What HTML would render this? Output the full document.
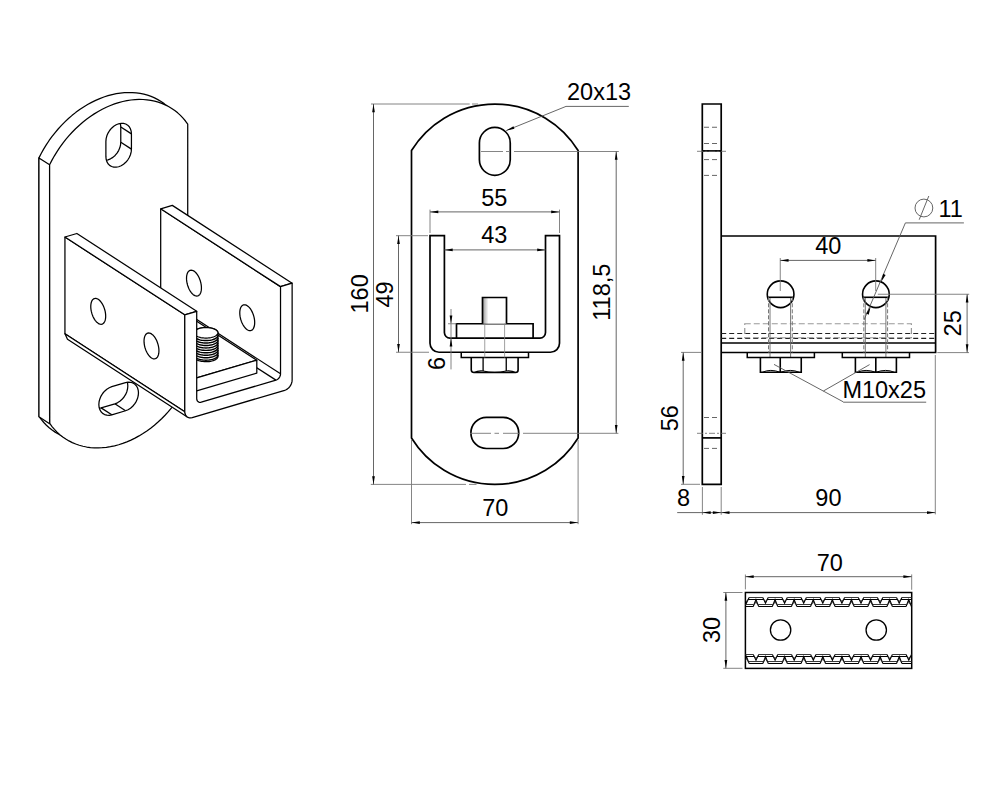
<!DOCTYPE html>
<html><head><meta charset="utf-8"><style>
html,body{margin:0;padding:0;background:#fff;}
svg{display:block;}
text{font-family:"Liberation Sans",sans-serif;fill:#000;}
</style></head><body>
<svg width="1000" height="800" viewBox="0 0 1000 800">
<rect width="1000" height="800" fill="#fff"/>
<g>
<polygon points="38.94,157.9 41.2,153.48 43.63,149.14 46.22,144.89 48.98,140.73 51.89,136.69 54.95,132.78 58.14,128.99 61.46,125.35 64.91,121.85 68.46,118.52 72.12,115.36 75.87,112.37 79.7,109.57 83.61,106.96 87.58,104.55 91.6,102.35 95.66,100.36 99.76,98.58 103.88,97.03 108.01,95.69 112.14,94.59 116.25,93.72 120.35,93.08 124.42,92.68 128.44,92.51 132.41,92.58 136.31,92.89 140.15,93.43 143.9,94.2 147.55,95.21 151.11,96.45 154.55,97.91 157.87,99.6 161.07,101.5 164.12,103.62 167.03,105.95 169.79,108.47 172.39,111.2 174.82,114.11 177.08,117.2 177.06,376.04 176.89,375.98 174.63,380.38 172.19,384.69 169.6,388.92 166.84,393.05 163.93,397.06 160.88,400.96 157.69,404.72 154.38,408.34 150.94,411.81 147.4,415.12 143.76,418.26 140.02,421.23 136.2,424.01 132.31,426.6 128.35,429 124.35,431.19 120.3,433.17 116.22,434.94 112.12,436.48 108.01,437.81 103.9,438.91 99.79,439.78 95.72,440.41 91.67,440.82 87.66,440.99 83.71,440.93 79.82,440.63 76,440.1 72.26,439.33 68.61,438.34 65.07,437.12 61.64,435.67 58.32,434 55.13,432.12 52.08,430.02 49.18,427.72 46.42,425.22 43.82,422.52 41.39,419.64 39.12,416.58 38.95,157.91" fill="#fff" stroke="#000" stroke-width="1.25" stroke-linejoin="round" />
<polygon points="38.95,157.91 49.6,164.83 49.6,423.66 38.95,416.75" fill="#fff" stroke="#000" stroke-width="1.25" stroke-linejoin="round" />
<polygon points="49.59,164.82 51.85,160.4 54.28,156.06 56.88,151.8 59.63,147.65 62.54,143.61 65.6,139.69 68.79,135.91 72.12,132.26 75.56,128.77 79.11,125.44 82.77,122.27 86.52,119.29 90.35,116.49 94.26,113.88 98.23,111.47 102.25,109.27 106.32,107.27 110.41,105.5 114.53,103.94 118.66,102.61 122.79,101.51 126.91,100.64 131,100 135.07,99.6 139.09,99.43 143.06,99.5 146.97,99.8 150.8,100.35 154.55,101.12 158.21,102.13 161.76,103.37 165.2,104.83 168.53,106.52 171.72,108.42 174.77,110.54 177.68,112.86 180.44,115.39 183.04,118.11 185.47,121.02 187.73,124.11 187.71,382.96 187.54,382.9 185.28,387.29 182.85,391.61 180.25,395.84 177.49,399.96 174.58,403.98 171.53,407.87 168.34,411.64 165.03,415.26 161.6,418.73 158.05,422.04 154.41,425.18 150.67,428.15 146.85,430.93 142.96,433.52 139.01,435.91 135,438.11 130.95,440.09 126.87,441.85 122.77,443.4 118.66,444.73 114.55,445.82 110.45,446.69 106.37,447.33 102.32,447.74 98.31,447.91 94.36,447.84 90.47,447.55 86.65,447.01 82.91,446.25 79.27,445.26 75.72,444.03 72.29,442.59 68.97,440.92 65.79,439.04 62.74,436.94 59.83,434.64 57.07,432.14 54.47,429.44 52.04,426.56 49.78,423.49 49.6,164.83" fill="#fff" stroke="#000" stroke-width="1.25" stroke-linejoin="round" />
<clipPath id="cs1"><polygon points="105.89,141.4 106.14,138.62 106.86,135.8 108.04,133.06 109.63,130.49 111.57,128.2 113.77,126.26 116.17,124.77 118.66,123.77 121.15,123.3 123.54,123.38 125.75,124.02 127.69,125.17 129.27,126.8 130.45,128.85 131.18,131.24 131.43,133.87 131.43,149.13 131.18,151.91 130.45,154.72 129.27,157.47 127.69,160.04 125.75,162.33 123.54,164.26 121.15,165.76 118.66,166.76 116.17,167.23 113.77,167.14 111.57,166.51 109.63,165.36 108.04,163.72 106.86,161.67 106.14,159.29 105.89,156.66"/></clipPath>
<polygon points="95.24,134.48 95.49,131.7 96.21,128.89 97.39,126.14 98.98,123.57 100.91,121.28 103.12,119.35 105.52,117.85 108.01,116.85 110.5,116.38 112.89,116.47 115.1,117.1 117.03,118.25 118.62,119.89 119.8,121.93 120.53,124.32 120.77,126.95 120.77,142.21 120.53,144.99 119.8,147.81 118.62,150.55 117.03,153.12 115.1,155.41 112.89,157.35 110.5,158.84 108.01,159.84 105.52,160.31 103.12,160.23 100.91,159.59 98.98,158.44 97.39,156.81 96.21,154.76 95.49,152.37 95.24,149.74" fill="none" stroke="#000" stroke-width="1.25" stroke-linejoin="round" clip-path="url(#cs1)"/>
<line x1="120.82" y1="126.94" x2="131.47" y2="133.86" stroke="#000" stroke-width="1.25" />
<line x1="120.82" y1="142.2" x2="131.47" y2="149.12" stroke="#000" stroke-width="1.25" />
<polygon points="105.89,141.4 106.14,138.62 106.86,135.8 108.04,133.06 109.63,130.49 111.57,128.2 113.77,126.26 116.17,124.77 118.66,123.77 121.15,123.3 123.54,123.38 125.75,124.02 127.69,125.17 129.27,126.8 130.45,128.85 131.18,131.24 131.43,133.87 131.43,149.13 131.18,151.91 130.45,154.72 129.27,157.47 127.69,160.04 125.75,162.33 123.54,164.26 121.15,165.76 118.66,166.76 116.17,167.23 113.77,167.14 111.57,166.51 109.63,165.36 108.04,163.72 106.86,161.67 106.14,159.29 105.89,156.66" fill="none" stroke="#000" stroke-width="1.25" stroke-linejoin="round" />
<clipPath id="cs2"><polygon points="125.54,382.65 128.06,382.17 130.49,382.26 132.72,382.9 134.68,384.07 136.29,385.72 137.49,387.8 138.22,390.21 138.47,392.88 138.22,395.69 137.49,398.55 136.29,401.33 134.68,403.93 132.72,406.25 130.49,408.21 128.06,409.72 125.54,410.74 111.78,414.79 109.26,415.27 106.83,415.18 104.59,414.54 102.63,413.37 101.03,411.72 99.83,409.64 99.09,407.23 98.85,404.56 99.09,401.75 99.83,398.89 101.03,396.11 102.63,393.51 104.59,391.19 106.83,389.23 109.26,387.72 111.78,386.7"/></clipPath>
<polygon points="114.89,375.73 117.41,375.26 119.84,375.34 122.07,375.98 124.03,377.15 125.64,378.8 126.84,380.88 127.57,383.3 127.82,385.96 127.57,388.78 126.84,391.63 125.64,394.41 124.03,397.01 122.07,399.34 119.84,401.29 117.41,402.81 114.89,403.82 101.13,407.88 98.6,408.35 96.18,408.27 93.94,407.63 91.98,406.46 90.37,404.8 89.18,402.73 88.44,400.31 88.19,397.64 88.44,394.83 89.18,391.98 90.37,389.2 91.98,386.59 93.94,384.27 96.18,382.31 98.6,380.8 101.13,379.79" fill="none" stroke="#000" stroke-width="1.25" stroke-linejoin="round" clip-path="url(#cs2)"/>
<line x1="101.13" y1="407.88" x2="111.78" y2="414.79" stroke="#000" stroke-width="1.25" />
<line x1="114.89" y1="403.82" x2="125.54" y2="410.74" stroke="#000" stroke-width="1.25" />
<polygon points="125.54,382.65 128.06,382.17 130.49,382.26 132.72,382.9 134.68,384.07 136.29,385.72 137.49,387.8 138.22,390.21 138.47,392.88 138.22,395.69 137.49,398.55 136.29,401.33 134.68,403.93 132.72,406.25 130.49,408.21 128.06,409.72 125.54,410.74 111.78,414.79 109.26,415.27 106.83,415.18 104.59,414.54 102.63,413.37 101.03,411.72 99.83,409.64 99.09,407.23 98.85,404.56 99.09,401.75 99.83,398.89 101.03,396.11 102.63,393.51 104.59,391.19 106.83,389.23 109.26,387.72 111.78,386.7" fill="none" stroke="#000" stroke-width="1.25" stroke-linejoin="round" />
<polygon points="160.69,208.8 280.52,286.61 280.52,378.8 160.69,300.99" fill="#fff" stroke="none" stroke-width="1.25" stroke-linejoin="round" />
<line x1="160.69" y1="208.8" x2="160.69" y2="296.03" stroke="#000" stroke-width="1.25" />
<line x1="160.69" y1="208.8" x2="280.52" y2="286.61" stroke="#000" stroke-width="1.25" />
<polygon points="160.69,208.8 280.52,286.61 292.13,283.19 172.3,205.37" fill="#fff" stroke="#000" stroke-width="1.25" stroke-linejoin="round" />
<polygon points="201.43,287.96 201.37,289.49 201.18,290.91 200.87,292.2 200.43,293.33 199.89,294.28 199.25,295.04 198.52,295.61 197.71,295.95 196.83,296.08 195.91,295.99 194.95,295.67 193.98,295.14 193,294.41 192.05,293.48 191.12,292.37 190.25,291.11 189.44,289.71 188.7,288.2 188.06,286.6 187.52,284.94 187.09,283.25 186.77,281.56 186.58,279.89 186.52,278.28 186.58,276.75 186.77,275.34 187.09,274.05 187.52,272.92 188.06,271.96 188.7,271.2 189.44,270.64 190.25,270.29 191.12,270.17 192.05,270.26 193,270.57 193.98,271.1 194.95,271.84 195.91,272.77 196.83,273.87 197.71,275.13 198.52,276.53 199.25,278.05 199.89,279.65 200.43,281.31 200.87,283 201.18,284.69 201.37,286.35" fill="none" stroke="#000" stroke-width="1.25" stroke-linejoin="round" />
<polygon points="254.69,322.55 254.63,324.08 254.44,325.49 254.13,326.78 253.69,327.91 253.15,328.86 252.51,329.63 251.78,330.19 250.97,330.54 250.09,330.66 249.17,330.57 248.21,330.25 247.24,329.73 246.26,328.99 245.31,328.06 244.38,326.96 243.51,325.69 242.7,324.29 241.96,322.78 241.32,321.18 240.78,319.52 240.35,317.83 240.03,316.14 239.84,314.48 239.78,312.86 239.84,311.34 240.03,309.92 240.35,308.63 240.78,307.5 241.32,306.55 241.96,305.78 242.7,305.22 243.51,304.88 244.38,304.75 245.31,304.84 246.26,305.16 247.24,305.69 248.21,306.42 249.17,307.35 250.09,308.46 250.97,309.72 251.78,311.12 252.51,312.63 253.15,314.23 253.69,315.89 254.13,317.58 254.44,319.27 254.63,320.94" fill="none" stroke="#000" stroke-width="1.25" stroke-linejoin="round" />
<polygon points="76.88,325.68 196.71,403.5 280.52,378.8 160.69,300.99" fill="#fff" stroke="none" stroke-width="1.25" stroke-linejoin="round" />
<line x1="160.69" y1="296.03" x2="280.52" y2="373.85" stroke="#000" stroke-width="1.25" />
<line x1="156.13" y1="302.33" x2="275.96" y2="380.14" stroke="#000" stroke-width="1.25" />
<polygon points="100.09,318.37 193.3,378.89 256.8,360.18 163.59,299.66" fill="#fff" stroke="#000" stroke-width="1.25" stroke-linejoin="round" />
<polygon points="193.3,378.89 256.8,360.18 256.8,373.1 193.3,391.81" fill="#fff" stroke="#000" stroke-width="1.25" stroke-linejoin="round" />
<polygon points="100.09,318.37 193.3,378.89 193.3,391.81 100.09,331.29" fill="#fff" stroke="#000" stroke-width="1.25" stroke-linejoin="round" />
<polygon points="217.95,332.81 217.85,332.12 217.55,331.45 217.04,330.8 216.35,330.18 215.47,329.61 214.44,329.09 213.26,328.64 211.95,328.25 210.55,327.95 209.06,327.73 207.52,327.59 205.95,327.55 204.39,327.59 202.85,327.72 201.36,327.94 199.95,328.24 198.65,328.63 197.47,329.08 196.43,329.59 195.56,330.16 194.86,330.78 194.36,331.43 194.05,332.1 193.95,332.79 193.95,356.42 194.05,357.11 194.36,357.78 194.86,358.43 195.56,359.05 196.43,359.62 197.47,360.14 198.65,360.59 199.95,360.98 201.36,361.28 202.85,361.5 204.39,361.64 205.95,361.68 207.52,361.64 209.06,361.51 210.55,361.29 211.95,360.99 213.26,360.6 214.44,360.15 215.47,359.64 216.35,359.07 217.04,358.45 217.55,357.8 217.85,357.13 217.95,356.44" fill="#fff" stroke="#000" stroke-width="1.25" stroke-linejoin="round" />
<polygon points="212.67,337.16 213.91,336.74 215.01,336.25 215.96,335.7 216.74,335.11 217.33,334.47 217.73,333.81 217.93,333.13 217.92,332.44 217.71,331.76 217.3,331.1 216.69,330.46 215.9,329.87 214.94,329.32 213.82,328.84 212.57,328.42 211.21,328.08 209.76,327.82 208.24,327.64 206.68,327.56 205.11,327.56 203.56,327.65 202.04,327.83 200.6,328.09 199.24,328.44 198,328.86 196.89,329.35 195.94,329.89 195.16,330.49 194.57,331.12 194.17,331.79 193.97,332.47 193.98,333.16 194.19,333.84 194.61,334.5 195.21,335.14 196,335.73 196.97,336.27 198.08,336.76 199.33,337.18 200.69,337.52 202.15,337.78 203.67,337.95 205.22,338.04 206.79,338.04 208.35,337.95 209.86,337.77 211.31,337.5 212.67,337.16" fill="#fff" stroke="#000" stroke-width="1.25" stroke-linejoin="round" />
<polyline points="193.95,335.31 194.05,336 194.36,336.67 194.86,337.32 195.56,337.94 196.43,338.51 197.47,339.03 198.65,339.48 199.95,339.86 201.36,340.17 202.85,340.39 204.39,340.53 205.95,340.57 207.52,340.53 209.06,340.4 210.55,340.18 211.95,339.87 213.26,339.49 214.44,339.04 215.47,338.52 216.35,337.95 217.04,337.34 217.55,336.69 217.85,336.01 217.95,335.33" fill="none" stroke="#000" stroke-width="1.45" stroke-linejoin="round" />
<polyline points="193.95,337.76 194.05,338.45 194.36,339.12 194.86,339.77 195.56,340.39 196.43,340.96 197.47,341.48 198.65,341.93 199.95,342.31 201.36,342.62 202.85,342.84 204.39,342.98 205.95,343.02 207.52,342.98 209.06,342.84 210.55,342.63 211.95,342.32 213.26,341.94 214.44,341.49 215.47,340.97 216.35,340.4 217.04,339.79 217.55,339.14 217.85,338.46 217.95,337.78" fill="none" stroke="#000" stroke-width="1.45" stroke-linejoin="round" />
<polyline points="193.95,340.21 194.05,340.89 194.36,341.57 194.86,342.22 195.56,342.84 196.43,343.41 197.47,343.93 198.65,344.38 199.95,344.76 201.36,345.07 202.85,345.29 204.39,345.42 205.95,345.47 207.52,345.43 209.06,345.29 210.55,345.07 211.95,344.77 213.26,344.39 214.44,343.94 215.47,343.42 216.35,342.85 217.04,342.24 217.55,341.59 217.85,340.91 217.95,340.23" fill="none" stroke="#000" stroke-width="1.45" stroke-linejoin="round" />
<polyline points="193.95,342.66 194.05,343.34 194.36,344.02 194.86,344.67 195.56,345.29 196.43,345.86 197.47,346.37 198.65,346.83 199.95,347.21 201.36,347.52 202.85,347.74 204.39,347.87 205.95,347.92 207.52,347.88 209.06,347.74 210.55,347.52 211.95,347.22 213.26,346.84 214.44,346.39 215.47,345.87 216.35,345.3 217.04,344.68 217.55,344.03 217.85,343.36 217.95,342.67" fill="none" stroke="#000" stroke-width="1.45" stroke-linejoin="round" />
<polyline points="193.95,345.11 194.05,345.79 194.36,346.47 194.86,347.12 195.56,347.73 196.43,348.31 197.47,348.82 198.65,349.28 199.95,349.66 201.36,349.97 202.85,350.19 204.39,350.32 205.95,350.37 207.52,350.32 209.06,350.19 210.55,349.97 211.95,349.67 213.26,349.29 214.44,348.84 215.47,348.32 216.35,347.75 217.04,347.13 217.55,346.48 217.85,345.81 217.95,345.12" fill="none" stroke="#000" stroke-width="1.45" stroke-linejoin="round" />
<polyline points="193.95,347.56 194.05,348.24 194.36,348.92 194.86,349.57 195.56,350.18 196.43,350.75 197.47,351.27 198.65,351.73 199.95,352.11 201.36,352.41 202.85,352.64 204.39,352.77 205.95,352.82 207.52,352.77 209.06,352.64 210.55,352.42 211.95,352.12 213.26,351.74 214.44,351.28 215.47,350.77 216.35,350.2 217.04,349.58 217.55,348.93 217.85,348.26 217.95,347.57" fill="none" stroke="#000" stroke-width="1.45" stroke-linejoin="round" />
<polyline points="193.95,350 194.05,350.69 194.36,351.36 194.86,352.01 195.56,352.63 196.43,353.2 197.47,353.72 198.65,354.18 199.95,354.56 201.36,354.86 202.85,355.08 204.39,355.22 205.95,355.27 207.52,355.22 209.06,355.09 210.55,354.87 211.95,354.57 213.26,354.19 214.44,353.73 215.47,353.22 216.35,352.65 217.04,352.03 217.55,351.38 217.85,350.71 217.95,350.02" fill="none" stroke="#000" stroke-width="1.45" stroke-linejoin="round" />
<polyline points="193.95,352.45 194.05,353.14 194.36,353.81 194.86,354.46 195.56,355.08 196.43,355.65 197.47,356.17 198.65,356.62 199.95,357.01 201.36,357.31 202.85,357.53 204.39,357.67 205.95,357.71 207.52,357.67 209.06,357.54 210.55,357.32 211.95,357.02 213.26,356.63 214.44,356.18 215.47,355.67 216.35,355.1 217.04,354.48 217.55,353.83 217.85,353.16 217.95,352.47" fill="none" stroke="#000" stroke-width="1.45" stroke-linejoin="round" />
<polyline points="193.95,354.9 194.05,355.59 194.36,356.26 194.86,356.91 195.56,357.53 196.43,358.1 197.47,358.62 198.65,359.07 199.95,359.46 201.36,359.76 202.85,359.98 204.39,360.12 205.95,360.16 207.52,360.12 209.06,359.99 210.55,359.77 211.95,359.46 213.26,359.08 214.44,358.63 215.47,358.11 216.35,357.54 217.04,356.93 217.55,356.28 217.85,355.6 217.95,354.92" fill="none" stroke="#000" stroke-width="1.45" stroke-linejoin="round" />
<polygon points="64.94,237.01 184.77,314.83 184.77,411.65 64.94,333.84" fill="#fff" stroke="#000" stroke-width="1.25" stroke-linejoin="round" />
<polygon points="64.94,237.01 184.77,314.83 196.71,311.31 76.88,233.49" fill="#fff" stroke="#000" stroke-width="1.25" stroke-linejoin="round" />
<polygon points="105.68,316.18 105.62,317.71 105.43,319.13 105.12,320.41 104.68,321.54 104.14,322.5 103.5,323.26 102.77,323.82 101.96,324.17 101.08,324.3 100.16,324.2 99.2,323.89 98.23,323.36 97.25,322.62 96.3,321.7 95.37,320.59 94.5,319.33 93.69,317.93 92.96,316.41 92.31,314.81 91.77,313.16 91.34,311.47 91.03,309.77 90.83,308.11 90.77,306.5 90.83,304.97 91.03,303.55 91.34,302.27 91.77,301.14 92.31,300.18 92.96,299.42 93.69,298.86 94.5,298.51 95.37,298.38 96.3,298.48 97.25,298.79 98.23,299.32 99.2,300.06 100.16,300.98 101.08,302.09 101.96,303.35 102.77,304.75 103.5,306.26 104.14,307.86 104.68,309.52 105.12,311.21 105.43,312.91 105.62,314.57" fill="none" stroke="#000" stroke-width="1.25" stroke-linejoin="round" />
<polygon points="158.94,350.77 158.88,352.29 158.69,353.71 158.38,355 157.94,356.13 157.4,357.08 156.76,357.85 156.03,358.41 155.22,358.75 154.34,358.88 153.42,358.79 152.46,358.47 151.49,357.94 150.51,357.21 149.56,356.28 148.63,355.17 147.76,353.91 146.95,352.51 146.22,351 145.57,349.4 145.03,347.74 144.6,346.05 144.29,344.36 144.09,342.69 144.03,341.08 144.09,339.55 144.29,338.14 144.6,336.85 145.03,335.72 145.57,334.77 146.22,334 146.95,333.44 147.76,333.09 148.63,332.97 149.56,333.06 150.51,333.38 151.49,333.9 152.46,334.64 153.42,335.57 154.34,336.67 155.22,337.94 156.03,339.34 156.76,340.85 157.4,342.45 157.94,344.11 158.38,345.8 158.69,347.49 158.88,349.15" fill="none" stroke="#000" stroke-width="1.25" stroke-linejoin="round" />
<polygon points="64.94,333.84 184.77,411.65 187.31,416.98 67.48,339.17" fill="#fff" stroke="#000" stroke-width="1.25" stroke-linejoin="round" />
<polygon points="184.77,314.83 184.77,411.65 184.77,411.65 184.92,413.19 185.34,414.59 186.03,415.78 186.96,416.74 188.09,417.41 189.38,417.78 190.78,417.83 192.24,417.56 284.67,390.32 286.13,389.73 287.52,388.86 288.81,387.73 289.95,386.39 290.87,384.89 291.56,383.28 291.99,381.64 292.13,380.02 292.13,283.19 280.52,286.61 280.52,373.85 280.52,373.85 280.44,374.84 280.18,375.85 279.76,376.83 279.19,377.74 278.5,378.56 277.71,379.25 276.85,379.79 275.96,380.14 201.27,402.15 200.38,402.32 199.53,402.29 198.74,402.07 198.05,401.65 197.48,401.07 197.06,400.34 196.8,399.49 196.71,398.55 196.71,311.31" fill="#fff" stroke="#000" stroke-width="1.25" stroke-linejoin="round" />
</g>
<path d="M411.5,150.5 A97.9,97.9 0 0 1 578.1,150.5 L578.1,438.0 A97.9,97.9 0 0 1 411.5,438.0 Z" stroke="#000" stroke-width="1.7" fill="none" />
<path d="M479.4,142.9 A15.42,15.42 0 0 1 510.25,142.9 L510.25,159.85 A15.42,15.42 0 0 1 479.4,159.85 Z" stroke="#000" stroke-width="1.7" fill="none" />
<path d="M486.5,417.3 L503.1,417.3 A15.6,15.6 0 0 1 503.1,448.5 L486.5,448.5 A15.6,15.6 0 0 1 486.5,417.3 Z" stroke="#000" stroke-width="1.7" fill="none" />
<path d="M481,151.5 H503 M506,151.5 H510 M514,151.5 H618.8" stroke="#777" stroke-width="0.9" fill="none" />
<path d="M470,433.3 H491 M494.5,433.3 H499 M503,433.3 H520 M523,433.3 H618.4" stroke="#777" stroke-width="0.9" fill="none" />
<path d="M430,235.7 L430,343.25 A9,9 0 0 0 439,352.25 L550.5,352.25 A9,9 0 0 0 559.5,343.25 L559.5,235.7 L545.5,235.7 L545.5,332.6 A5.5,5.5 0 0 1 540,338.1 L449.9,338.1 A5.5,5.5 0 0 1 444.4,332.6 L444.4,235.7 Z" stroke="#000" stroke-width="1.7" fill="none" />
<path d="M456.5,338.1 V323.75 H533.1 V338.1" stroke="#000" stroke-width="1.7" fill="none" />
<defs><linearGradient id="bg" x1="0" x2="1"><stop offset="0" stop-color="#999"/><stop offset="0.25" stop-color="#fff"/><stop offset="1" stop-color="#fff"/></linearGradient></defs>
<path d="M482.5,323.75 V297.5 H506.5 V323.75" stroke="#000" stroke-width="1.7" fill="url(#bg)" />
<path d="M461.25,352.25 V357.5 H528.5 V352.25" stroke="#000" stroke-width="1.5" fill="none" />
<path d="M471.25,357.5 V370 Q471.5,372.5 474,372.5 H515.5 Q518.1,372.5 518.1,370 V357.5" stroke="#000" stroke-width="1.6" fill="none" />
<path d="M483.1,357.5 V371 M506.25,357.5 V371" stroke="#000" stroke-width="1.3" fill="none" />
<path d="M474,372.5 Q478,370.5 483.1,371 Q494.5,373.5 506.25,371 Q512,370.5 515.5,372.5" stroke="#000" stroke-width="1.2" fill="none" />
<line x1="484.75" y1="323.5" x2="484.75" y2="357.5" stroke="#888" stroke-width="0.8" />
<line x1="504.6" y1="323.5" x2="504.6" y2="357.5" stroke="#888" stroke-width="0.8" />
<line x1="371" y1="104" x2="469.7" y2="104" stroke="#777" stroke-width="0.9" />
<line x1="472" y1="104" x2="478" y2="104" stroke="#777" stroke-width="0.9" />
<line x1="370.8" y1="484.4" x2="466" y2="484.4" stroke="#777" stroke-width="0.9" />
<line x1="469" y1="484.4" x2="476.5" y2="484.4" stroke="#777" stroke-width="0.9" />
<line x1="373.5" y1="104" x2="373.5" y2="484.5" stroke="#555" stroke-width="0.9" />
<polygon points="373.5,104 374.85,112.3 372.15,112.3" fill="#000"/>
<polygon points="373.5,484.5 372.15,476.2 374.85,476.2" fill="#000"/>
<text x="0" y="0" transform="translate(367.65,293.9) rotate(-90)" font-size="23.5" text-anchor="middle">160</text>
<line x1="396" y1="235.7" x2="428" y2="235.7" stroke="#777" stroke-width="0.9" />
<line x1="396" y1="352.25" x2="429" y2="352.25" stroke="#777" stroke-width="0.9" />
<line x1="398.5" y1="235.7" x2="398.5" y2="352.25" stroke="#555" stroke-width="0.9" />
<polygon points="398.5,235.7 399.85,244 397.15,244" fill="#000"/>
<polygon points="398.5,352.25 397.15,343.95 399.85,343.95" fill="#000"/>
<text x="0" y="0" transform="translate(392.85,294.4) rotate(-90)" font-size="23.5" text-anchor="middle">49</text>
<line x1="430" y1="209.6" x2="430" y2="233" stroke="#777" stroke-width="0.9" />
<line x1="559.5" y1="209.6" x2="559.5" y2="233" stroke="#777" stroke-width="0.9" />
<line x1="430" y1="211.9" x2="559.5" y2="211.9" stroke="#555" stroke-width="0.9" />
<polygon points="430,211.9 438.3,210.55 438.3,213.25" fill="#000"/>
<polygon points="559.5,211.9 551.2,213.25 551.2,210.55" fill="#000"/>
<text x="494.3" y="205.9" font-size="23.5" text-anchor="middle">55</text>
<line x1="444.4" y1="249.9" x2="545.5" y2="249.9" stroke="#555" stroke-width="0.9" />
<polygon points="444.4,249.9 452.7,248.55 452.7,251.25" fill="#000"/>
<polygon points="545.5,249.9 537.2,251.25 537.2,248.55" fill="#000"/>
<text x="494.2" y="243.3" font-size="23.5" text-anchor="middle">43</text>
<line x1="616.2" y1="151.5" x2="616.2" y2="433.3" stroke="#555" stroke-width="0.9" />
<polygon points="616.2,151.5 617.55,159.8 614.85,159.8" fill="#000"/>
<polygon points="616.2,433.3 614.85,425 617.55,425" fill="#000"/>
<text x="0" y="0" transform="translate(610.25,292.2) rotate(-90)" font-size="23.5" text-anchor="middle">118,5</text>
<line x1="411.5" y1="440" x2="411.5" y2="524.2" stroke="#777" stroke-width="0.9" />
<line x1="578.1" y1="440" x2="578.1" y2="524.2" stroke="#777" stroke-width="0.9" />
<line x1="411.5" y1="522.6" x2="578.1" y2="522.6" stroke="#555" stroke-width="0.9" />
<polygon points="411.5,522.6 419.8,521.25 419.8,523.95" fill="#000"/>
<polygon points="578.1,522.6 569.8,523.95 569.8,521.25" fill="#000"/>
<text x="495.2" y="516.4" font-size="23.5" text-anchor="middle">70</text>
<line x1="451" y1="309" x2="451" y2="369.4" stroke="#777" stroke-width="0.9" />
<polygon points="451,323.75 449.65,315.45 452.35,315.45" fill="#000"/>
<polygon points="451,338.1 452.35,346.4 449.65,346.4" fill="#000"/>
<line x1="448" y1="323.75" x2="456.5" y2="323.75" stroke="#777" stroke-width="0.9" />
<text x="0" y="0" transform="translate(445,363.5) rotate(-90)" font-size="23.5" text-anchor="middle">6</text>
<line x1="506.25" y1="130.6" x2="566" y2="106.4" stroke="#555" stroke-width="0.9" />
<line x1="566" y1="106.4" x2="628.8" y2="106.4" stroke="#555" stroke-width="0.9" />
<polygon points="506.25,130.6 513.44,126.23 514.45,128.74" fill="#000"/>
<text x="567" y="100" font-size="23.5" text-anchor="start">20x13</text>
<path d="M702.3,104 H721.2 V484.3 H702.3 Z" stroke="#000" stroke-width="1.7" fill="none" />
<line x1="702.3" y1="150.9" x2="721.2" y2="150.9" stroke="#000" stroke-width="1.7" />
<line x1="702.3" y1="437.9" x2="721.2" y2="437.9" stroke="#000" stroke-width="1.7" />
<line x1="704" y1="127.25" x2="720" y2="127.25" stroke="#666" stroke-width="1.0" stroke-dasharray="5,3"/>
<line x1="704" y1="143.5" x2="720" y2="143.5" stroke="#666" stroke-width="1.0" stroke-dasharray="5,3"/>
<line x1="704" y1="159.6" x2="720" y2="159.6" stroke="#666" stroke-width="1.0" stroke-dasharray="5,3"/>
<line x1="704" y1="175.4" x2="720" y2="175.4" stroke="#666" stroke-width="1.0" stroke-dasharray="5,3"/>
<line x1="704" y1="417.5" x2="720" y2="417.5" stroke="#666" stroke-width="1.0" stroke-dasharray="5,3"/>
<line x1="704" y1="448.4" x2="720" y2="448.4" stroke="#666" stroke-width="1.0" stroke-dasharray="5,3"/>
<line x1="697" y1="151.3" x2="726" y2="151.3" stroke="#666" stroke-width="0.8" stroke-dasharray="6,2,2,2"/>
<line x1="697" y1="433.3" x2="726" y2="433.3" stroke="#666" stroke-width="0.8" stroke-dasharray="6,2,2,2"/>
<path d="M721.2,236 H935.6 V352.5 H721.2" stroke="#000" stroke-width="1.7" fill="none" />
<line x1="721.2" y1="343.1" x2="935.6" y2="343.1" stroke="#000" stroke-width="1.5" />
<line x1="721.2" y1="333.5" x2="935.6" y2="333.5" stroke="#222" stroke-width="1.1" stroke-dasharray="5,3"/>
<line x1="721.2" y1="338.4" x2="935.6" y2="338.4" stroke="#222" stroke-width="1.1" stroke-dasharray="5,3"/>
<rect x="744.75" y="323.75" width="166.65" height="14" fill="none" stroke="#999" stroke-width="1.2" stroke-dasharray="6,3"/>
<circle cx="780.6" cy="294.25" r="13.35" fill="#fff" stroke="#000" stroke-width="1.6"/>
<line x1="767.5" y1="297.3" x2="793.7" y2="297.3" stroke="#000" stroke-width="1.6" />
<line x1="768.5" y1="297.3" x2="768.5" y2="352.5" stroke="#777" stroke-width="1.0" stroke-dasharray="4,2"/>
<line x1="792.3" y1="297.3" x2="792.3" y2="352.5" stroke="#777" stroke-width="1.0" stroke-dasharray="4,2"/>
<line x1="770" y1="298" x2="770" y2="357.5" stroke="#666" stroke-width="0.9" />
<line x1="790.6" y1="298" x2="790.6" y2="357.5" stroke="#666" stroke-width="0.9" />
<circle cx="875.9" cy="294.25" r="13.35" fill="#fff" stroke="#000" stroke-width="1.6"/>
<line x1="862.8" y1="297.3" x2="889" y2="297.3" stroke="#000" stroke-width="1.6" />
<line x1="863.8" y1="297.3" x2="863.8" y2="352.5" stroke="#777" stroke-width="1.0" stroke-dasharray="4,2"/>
<line x1="887.6" y1="297.3" x2="887.6" y2="352.5" stroke="#777" stroke-width="1.0" stroke-dasharray="4,2"/>
<line x1="865.3" y1="298" x2="865.3" y2="357.5" stroke="#666" stroke-width="0.9" />
<line x1="885.9" y1="298" x2="885.9" y2="357.5" stroke="#666" stroke-width="0.9" />
<path d="M747.25,352.5 V357.5 H814.4 V352.5" stroke="#000" stroke-width="1.5" fill="none" />
<path d="M760.4,357.5 V372.3 H801.25 V357.5 M780.25,357.5 V372.3" stroke="#000" stroke-width="1.6" fill="none" />
<path d="M762.4,372.3 Q770.325,368.5 780.25,372.3 Q790.75,368.5 799.25,372.3" stroke="#000" stroke-width="1.0" fill="none" />
<path d="M842.3,352.5 V357.5 H909.5 V352.5" stroke="#000" stroke-width="1.5" fill="none" />
<path d="M855.4,357.5 V372.3 H896.4 V357.5 M875.8,357.5 V372.3" stroke="#000" stroke-width="1.6" fill="none" />
<path d="M857.4,372.3 Q865.5999999999999,368.5 875.8,372.3 Q886.0999999999999,368.5 894.4,372.3" stroke="#000" stroke-width="1.0" fill="none" />
<line x1="780.25" y1="258" x2="780.25" y2="291" stroke="#777" stroke-width="0.9" />
<line x1="875.7" y1="258" x2="875.7" y2="291" stroke="#777" stroke-width="0.9" />
<line x1="780.25" y1="260.4" x2="875.7" y2="260.4" stroke="#555" stroke-width="0.9" />
<polygon points="780.25,260.4 788.55,259.05 788.55,261.75" fill="#000"/>
<polygon points="875.7,260.4 867.4,261.75 867.4,259.05" fill="#000"/>
<text x="828.25" y="254.4" font-size="23.5" text-anchor="middle">40</text>
<line x1="864" y1="320" x2="905.4" y2="222.9" stroke="#555" stroke-width="0.9" />
<line x1="905.4" y1="222.9" x2="963.9" y2="222.9" stroke="#555" stroke-width="0.9" />
<polygon points="881.1,282 883.11,273.84 885.6,274.89" fill="#000"/>
<polygon points="870.7,306.5 868.69,314.66 866.2,313.61" fill="#000"/>
<circle cx="923.9" cy="208" r="8.9" fill="none" stroke="#555" stroke-width="0.9"/>
<line x1="919.2" y1="219.7" x2="928.8" y2="196" stroke="#555" stroke-width="0.9" />
<text x="938.4" y="217" font-size="23.5" text-anchor="start">11</text>
<line x1="877.8" y1="294.25" x2="969.2" y2="294.25" stroke="#777" stroke-width="0.9" />
<line x1="937.3" y1="352.6" x2="969" y2="352.6" stroke="#777" stroke-width="0.9" />
<line x1="967.1" y1="294.25" x2="967.1" y2="352.6" stroke="#555" stroke-width="0.9" />
<polygon points="967.1,294.25 968.45,302.55 965.75,302.55" fill="#000"/>
<polygon points="967.1,352.6 965.75,344.3 968.45,344.3" fill="#000"/>
<text x="0" y="0" transform="translate(961.3,323.35) rotate(-90)" font-size="23.5" text-anchor="middle">25</text>
<line x1="774" y1="364.4" x2="843.2" y2="401.8" stroke="#555" stroke-width="0.9" />
<line x1="869.6" y1="364.6" x2="823.4" y2="391" stroke="#555" stroke-width="0.9" />
<line x1="843.2" y1="402.2" x2="926.2" y2="402.2" stroke="#555" stroke-width="0.9" />
<text x="842.4" y="397.6" font-size="23.5" text-anchor="start">M10x25</text>
<line x1="681" y1="352.4" x2="701" y2="352.4" stroke="#777" stroke-width="0.9" />
<line x1="681" y1="484.3" x2="700" y2="484.3" stroke="#777" stroke-width="0.9" />
<line x1="683.2" y1="352.4" x2="683.2" y2="484.3" stroke="#555" stroke-width="0.9" />
<polygon points="683.2,352.4 684.55,360.7 681.85,360.7" fill="#000"/>
<polygon points="683.2,484.3 681.85,476 684.55,476" fill="#000"/>
<text x="0" y="0" transform="translate(677.8,418.25) rotate(-90)" font-size="23.5" text-anchor="middle">56</text>
<line x1="702.4" y1="487" x2="702.4" y2="514.8" stroke="#777" stroke-width="0.9" />
<line x1="721.2" y1="487" x2="721.2" y2="514.8" stroke="#777" stroke-width="0.9" />
<line x1="935.3" y1="355" x2="935.3" y2="514.4" stroke="#777" stroke-width="0.9" />
<line x1="677.2" y1="512.6" x2="935.3" y2="512.6" stroke="#555" stroke-width="0.9" />
<polygon points="702.4,512.6 710.7,511.25 710.7,513.95" fill="#000"/>
<polygon points="721.2,512.6 712.9,513.95 712.9,511.25" fill="#000"/>
<polygon points="721.2,512.6 729.5,511.25 729.5,513.95" fill="#000"/>
<polygon points="935.3,512.6 927,513.95 927,511.25" fill="#000"/>
<text x="683.6" y="506.4" font-size="23.5" text-anchor="middle">8</text>
<text x="828.4" y="506.4" font-size="23.5" text-anchor="middle">90</text>
<rect x="745.4" y="592.5" width="166.3" height="75.9" fill="none" stroke="#000" stroke-width="1.5"/>
<circle cx="780.6" cy="630" r="10.2" fill="none" stroke="#000" stroke-width="1.3"/>
<circle cx="876.25" cy="630" r="10.2" fill="none" stroke="#000" stroke-width="1.3"/>
<clipPath id="cb"><rect x="745.4" y="590" width="166.3" height="80"/></clipPath>
<path d="M705.5,597.5 L708.2,603.3 L710.9,597.5 M710.2,599.5 H725.3 M715.05,606.5 L717.75,599.5 L720.45,606.5 M720.45,606.5 H734.15 M724.6,597.5 L727.3,603.3 L730,597.5 M729.3,599.5 H744.4 M734.15,606.5 L736.85,599.5 L739.55,606.5 M739.55,606.5 H753.25 M743.7,597.5 L746.4,603.3 L749.1,597.5 M748.4,599.5 H763.5 M753.25,606.5 L755.95,599.5 L758.65,606.5 M758.65,606.5 H772.35 M762.8,597.5 L765.5,603.3 L768.2,597.5 M767.5,599.5 H782.6 M772.35,606.5 L775.05,599.5 L777.75,606.5 M777.75,606.5 H791.45 M781.9,597.5 L784.6,603.3 L787.3,597.5 M786.6,599.5 H801.7 M791.45,606.5 L794.15,599.5 L796.85,606.5 M796.85,606.5 H810.55 M801,597.5 L803.7,603.3 L806.4,597.5 M805.7,599.5 H820.8 M810.55,606.5 L813.25,599.5 L815.95,606.5 M815.95,606.5 H829.65 M820.1,597.5 L822.8,603.3 L825.5,597.5 M824.8,599.5 H839.9 M829.65,606.5 L832.35,599.5 L835.05,606.5 M835.05,606.5 H848.75 M839.2,597.5 L841.9,603.3 L844.6,597.5 M843.9,599.5 H859 M848.75,606.5 L851.45,599.5 L854.15,606.5 M854.15,606.5 H867.85 M858.3,597.5 L861,603.3 L863.7,597.5 M863,599.5 H878.1 M867.85,606.5 L870.55,599.5 L873.25,606.5 M873.25,606.5 H886.95 M877.4,597.5 L880.1,603.3 L882.8,597.5 M882.1,599.5 H897.2 M886.95,606.5 L889.65,599.5 L892.35,606.5 M892.35,606.5 H906.05 M896.5,597.5 L899.2,603.3 L901.9,597.5 M901.2,599.5 H916.3 M906.05,606.5 L908.75,599.5 L911.45,606.5 M911.45,606.5 H925.15 M915.6,597.5 L918.3,603.3 L921,597.5 M920.3,599.5 H935.4 M925.15,606.5 L927.85,599.5 L930.55,606.5 M930.55,606.5 H944.25" stroke="#000" stroke-width="1.1" fill="none" clip-path="url(#cb)"/>
<path d="M710.8,597.5 H724.7 M706.8,599.5 L708.2,601.7 L709.6,599.5 M716.25,604.5 L717.75,601.3 L719.25,604.5 M719.95,604.5 H734.65 M729.9,597.5 H743.8 M725.9,599.5 L727.3,601.7 L728.7,599.5 M735.35,604.5 L736.85,601.3 L738.35,604.5 M739.05,604.5 H753.75 M749,597.5 H762.9 M745,599.5 L746.4,601.7 L747.8,599.5 M754.45,604.5 L755.95,601.3 L757.45,604.5 M758.15,604.5 H772.85 M768.1,597.5 H782 M764.1,599.5 L765.5,601.7 L766.9,599.5 M773.55,604.5 L775.05,601.3 L776.55,604.5 M777.25,604.5 H791.95 M787.2,597.5 H801.1 M783.2,599.5 L784.6,601.7 L786,599.5 M792.65,604.5 L794.15,601.3 L795.65,604.5 M796.35,604.5 H811.05 M806.3,597.5 H820.2 M802.3,599.5 L803.7,601.7 L805.1,599.5 M811.75,604.5 L813.25,601.3 L814.75,604.5 M815.45,604.5 H830.15 M825.4,597.5 H839.3 M821.4,599.5 L822.8,601.7 L824.2,599.5 M830.85,604.5 L832.35,601.3 L833.85,604.5 M834.55,604.5 H849.25 M844.5,597.5 H858.4 M840.5,599.5 L841.9,601.7 L843.3,599.5 M849.95,604.5 L851.45,601.3 L852.95,604.5 M853.65,604.5 H868.35 M863.6,597.5 H877.5 M859.6,599.5 L861,601.7 L862.4,599.5 M869.05,604.5 L870.55,601.3 L872.05,604.5 M872.75,604.5 H887.45 M882.7,597.5 H896.6 M878.7,599.5 L880.1,601.7 L881.5,599.5 M888.15,604.5 L889.65,601.3 L891.15,604.5 M891.85,604.5 H906.55 M901.8,597.5 H915.7 M897.8,599.5 L899.2,601.7 L900.6,599.5 M907.25,604.5 L908.75,601.3 L910.25,604.5 M910.95,604.5 H925.65 M920.9,597.5 H934.8 M916.9,599.5 L918.3,601.7 L919.7,599.5 M926.35,604.5 L927.85,601.3 L929.35,604.5 M930.05,604.5 H944.75" stroke="#222" stroke-width="0.9" fill="none" clip-path="url(#cb)"/>
<path d="M696,654.5 L698.7,660.3 L701.4,654.5 M700.7,656.5 H715.8 M705.55,663.5 L708.25,656.5 L710.95,663.5 M710.95,663.5 H724.65 M715.1,654.5 L717.8,660.3 L720.5,654.5 M719.8,656.5 H734.9 M724.65,663.5 L727.35,656.5 L730.05,663.5 M730.05,663.5 H743.75 M734.2,654.5 L736.9,660.3 L739.6,654.5 M738.9,656.5 H754 M743.75,663.5 L746.45,656.5 L749.15,663.5 M749.15,663.5 H762.85 M753.3,654.5 L756,660.3 L758.7,654.5 M758,656.5 H773.1 M762.85,663.5 L765.55,656.5 L768.25,663.5 M768.25,663.5 H781.95 M772.4,654.5 L775.1,660.3 L777.8,654.5 M777.1,656.5 H792.2 M781.95,663.5 L784.65,656.5 L787.35,663.5 M787.35,663.5 H801.05 M791.5,654.5 L794.2,660.3 L796.9,654.5 M796.2,656.5 H811.3 M801.05,663.5 L803.75,656.5 L806.45,663.5 M806.45,663.5 H820.15 M810.6,654.5 L813.3,660.3 L816,654.5 M815.3,656.5 H830.4 M820.15,663.5 L822.85,656.5 L825.55,663.5 M825.55,663.5 H839.25 M829.7,654.5 L832.4,660.3 L835.1,654.5 M834.4,656.5 H849.5 M839.25,663.5 L841.95,656.5 L844.65,663.5 M844.65,663.5 H858.35 M848.8,654.5 L851.5,660.3 L854.2,654.5 M853.5,656.5 H868.6 M858.35,663.5 L861.05,656.5 L863.75,663.5 M863.75,663.5 H877.45 M867.9,654.5 L870.6,660.3 L873.3,654.5 M872.6,656.5 H887.7 M877.45,663.5 L880.15,656.5 L882.85,663.5 M882.85,663.5 H896.55 M887,654.5 L889.7,660.3 L892.4,654.5 M891.7,656.5 H906.8 M896.55,663.5 L899.25,656.5 L901.95,663.5 M901.95,663.5 H915.65 M906.1,654.5 L908.8,660.3 L911.5,654.5 M910.8,656.5 H925.9 M915.65,663.5 L918.35,656.5 L921.05,663.5 M921.05,663.5 H934.75" stroke="#000" stroke-width="1.1" fill="none" clip-path="url(#cb)"/>
<path d="M701.3,654.5 H715.2 M697.3,656.5 L698.7,658.7 L700.1,656.5 M706.75,661.5 L708.25,658.3 L709.75,661.5 M710.45,661.5 H725.15 M720.4,654.5 H734.3 M716.4,656.5 L717.8,658.7 L719.2,656.5 M725.85,661.5 L727.35,658.3 L728.85,661.5 M729.55,661.5 H744.25 M739.5,654.5 H753.4 M735.5,656.5 L736.9,658.7 L738.3,656.5 M744.95,661.5 L746.45,658.3 L747.95,661.5 M748.65,661.5 H763.35 M758.6,654.5 H772.5 M754.6,656.5 L756,658.7 L757.4,656.5 M764.05,661.5 L765.55,658.3 L767.05,661.5 M767.75,661.5 H782.45 M777.7,654.5 H791.6 M773.7,656.5 L775.1,658.7 L776.5,656.5 M783.15,661.5 L784.65,658.3 L786.15,661.5 M786.85,661.5 H801.55 M796.8,654.5 H810.7 M792.8,656.5 L794.2,658.7 L795.6,656.5 M802.25,661.5 L803.75,658.3 L805.25,661.5 M805.95,661.5 H820.65 M815.9,654.5 H829.8 M811.9,656.5 L813.3,658.7 L814.7,656.5 M821.35,661.5 L822.85,658.3 L824.35,661.5 M825.05,661.5 H839.75 M835,654.5 H848.9 M831,656.5 L832.4,658.7 L833.8,656.5 M840.45,661.5 L841.95,658.3 L843.45,661.5 M844.15,661.5 H858.85 M854.1,654.5 H868 M850.1,656.5 L851.5,658.7 L852.9,656.5 M859.55,661.5 L861.05,658.3 L862.55,661.5 M863.25,661.5 H877.95 M873.2,654.5 H887.1 M869.2,656.5 L870.6,658.7 L872,656.5 M878.65,661.5 L880.15,658.3 L881.65,661.5 M882.35,661.5 H897.05 M892.3,654.5 H906.2 M888.3,656.5 L889.7,658.7 L891.1,656.5 M897.75,661.5 L899.25,658.3 L900.75,661.5 M901.45,661.5 H916.15 M911.4,654.5 H925.3 M907.4,656.5 L908.8,658.7 L910.2,656.5 M916.85,661.5 L918.35,658.3 L919.85,661.5 M920.55,661.5 H935.25" stroke="#222" stroke-width="0.9" fill="none" clip-path="url(#cb)"/>
<line x1="745.4" y1="574.5" x2="745.4" y2="589.4" stroke="#777" stroke-width="0.9" />
<line x1="911.7" y1="574.4" x2="911.7" y2="589.8" stroke="#777" stroke-width="0.9" />
<line x1="745.4" y1="576.7" x2="911.7" y2="576.7" stroke="#555" stroke-width="0.9" />
<polygon points="745.4,576.7 753.7,575.35 753.7,578.05" fill="#000"/>
<polygon points="911.7,576.7 903.4,578.05 903.4,575.35" fill="#000"/>
<text x="829.8" y="570.7" font-size="23.5" text-anchor="middle">70</text>
<line x1="723.25" y1="592.5" x2="742.5" y2="592.5" stroke="#777" stroke-width="0.9" />
<line x1="723.25" y1="668.3" x2="742.5" y2="668.3" stroke="#777" stroke-width="0.9" />
<line x1="725.9" y1="592.5" x2="725.9" y2="668.3" stroke="#555" stroke-width="0.9" />
<polygon points="725.9,592.5 727.25,600.8 724.55,600.8" fill="#000"/>
<polygon points="725.9,668.3 724.55,660 727.25,660" fill="#000"/>
<text x="0" y="0" transform="translate(719.75,630) rotate(-90)" font-size="23.5" text-anchor="middle">30</text>
</svg>
</body></html>
